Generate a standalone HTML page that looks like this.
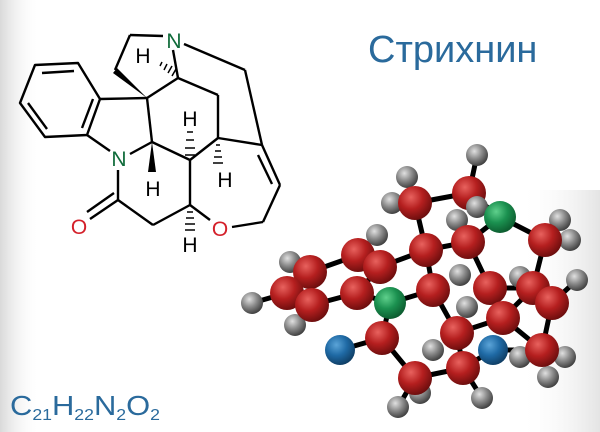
<!DOCTYPE html>
<html><head><meta charset="utf-8"><style>
html,body{margin:0;padding:0;width:600px;height:432px;overflow:hidden;background:#fff}
</style></head><body>
<svg width="600" height="432" viewBox="0 0 600 432" xmlns="http://www.w3.org/2000/svg">
<defs>
<linearGradient id="bgl" x1="0" x2="1"><stop offset="0" stop-color="#d9d9d9"/><stop offset="1" stop-color="#fff" stop-opacity="0"/></linearGradient>
<linearGradient id="bgr" x1="0" x2="1"><stop offset="0" stop-color="#fff" stop-opacity="0"/><stop offset="1" stop-color="#e4e4e4"/></linearGradient>
<radialGradient id="r" cx="0.38" cy="0.33" r="0.7"><stop offset="0" stop-color="#e8625e"/><stop offset="0.5" stop-color="#b51f1f"/><stop offset="1" stop-color="#6a0d0d"/></radialGradient>
<radialGradient id="g" cx="0.38" cy="0.33" r="0.7"><stop offset="0" stop-color="#5fd08c"/><stop offset="0.5" stop-color="#1b9150"/><stop offset="1" stop-color="#0c5a2e"/></radialGradient>
<radialGradient id="b" cx="0.38" cy="0.33" r="0.7"><stop offset="0" stop-color="#5ba4d8"/><stop offset="0.5" stop-color="#1f6aa5"/><stop offset="1" stop-color="#0f3d63"/></radialGradient>
<radialGradient id="h" cx="0.38" cy="0.33" r="0.7"><stop offset="0" stop-color="#e0e0e0"/><stop offset="0.5" stop-color="#8a8a8a"/><stop offset="1" stop-color="#3c3c3c"/></radialGradient>
</defs>
<rect width="600" height="432" fill="#fff"/>
<rect x="0" y="0" width="40" height="432" fill="url(#bgl)"/>
<rect x="520" y="190" width="80" height="242" fill="url(#bgr)"/>

<g stroke="#000" stroke-width="2.4" fill="none" stroke-linejoin="round">
<polygon points="35,65 78,63 100,99 87,135 45,137 20,103"/>
<line x1="42" y1="73" x2="74" y2="71"/><line x1="93" y1="99" x2="82" y2="128"/><line x1="28" y1="103" x2="47" y2="129"/>
<line x1="100" y1="99" x2="147" y2="98"/>
<line x1="87" y1="135" x2="110" y2="151"/>
<line x1="130" y1="154" x2="152" y2="142"/>
<line x1="147" y1="98" x2="152" y2="142"/>
<line x1="147" y1="98" x2="178" y2="78"/>
<line x1="178" y1="78" x2="173" y2="50"/>
<line x1="163" y1="36" x2="130" y2="35"/>
<line x1="130" y1="35" x2="115" y2="70"/>
<line x1="178" y1="78" x2="218" y2="95"/>
<line x1="218" y1="95" x2="218" y2="138"/>
<line x1="184" y1="44" x2="245" y2="70"/>
<line x1="245" y1="70" x2="262" y2="145"/>
<line x1="218" y1="138" x2="262" y2="145"/>
<line x1="262" y1="145" x2="280" y2="185"/><line x1="258" y1="155" x2="272" y2="184"/>
<line x1="280" y1="185" x2="263" y2="222"/>
<line x1="263" y1="222" x2="232" y2="227"/>
<line x1="210" y1="220" x2="190" y2="205"/>
<line x1="190" y1="205" x2="190" y2="160"/>
<line x1="152" y1="142" x2="190" y2="160"/>
<line x1="190" y1="160" x2="218" y2="138"/>
<line x1="190" y1="205" x2="153" y2="225"/>
<line x1="153" y1="225" x2="118" y2="200"/>
<line x1="118" y1="170" x2="118" y2="200"/>
<line x1="118" y1="200" x2="90" y2="219"/><line x1="114" y1="193" x2="87" y2="212"/>
</g>
<polygon points="147,98 113,73 117,68" fill="#000"/>
<polygon points="152,142 148,172 156,172" fill="#000"/>
<g stroke="#000" stroke-width="1.5">
<line x1="160" y1="66" x2="162" y2="62"/><line x1="164" y1="70" x2="167" y2="64"/><line x1="168" y1="73" x2="172" y2="66"/><line x1="172" y1="76" x2="176" y2="69"/>
<line x1="187" y1="132" x2="193" y2="132"/><line x1="186" y1="140" x2="194" y2="140"/><line x1="185" y1="148" x2="195" y2="148"/><line x1="185" y1="155" x2="195" y2="155"/>
<line x1="216" y1="145" x2="220" y2="145"/><line x1="215" y1="151" x2="221" y2="151"/><line x1="214" y1="157" x2="222" y2="157"/><line x1="213" y1="163" x2="223" y2="163"/>
<line x1="187" y1="212" x2="193" y2="212"/><line x1="186" y1="218" x2="194" y2="218"/><line x1="185" y1="224" x2="195" y2="224"/><line x1="185" y1="230" x2="195" y2="230"/>
</g>
<g font-family="Liberation Sans, sans-serif" font-size="21" text-anchor="middle">
<text x="174" y="48" fill="#0f6b3a">N</text>
<text x="119" y="166" fill="#0f6b3a">N</text>
<text x="79" y="234" fill="#d4202a">O</text>
<text x="220" y="236" fill="#d4202a">O</text>
<text x="143" y="63" fill="#000">H</text>
<text x="190" y="126" fill="#000">H</text>
<text x="153" y="196" fill="#000">H</text>
<text x="225" y="187" fill="#000">H</text>
<text x="190" y="252" fill="#000">H</text>
</g>
<text x="368" y="62" font-family="Liberation Sans, sans-serif" font-size="38" fill="#2a6a9c">Стрихнин</text>
<text x="10" y="415" font-family="Liberation Sans, sans-serif" font-size="28" fill="#2a6a9c" textLength="150" lengthAdjust="spacingAndGlyphs">C<tspan font-size="16" dy="5">21</tspan><tspan dy="-5">H</tspan><tspan font-size="16" dy="5">22</tspan><tspan dy="-5">N</tspan><tspan font-size="16" dy="5">2</tspan><tspan dy="-5">O</tspan><tspan font-size="16" dy="5">2</tspan></text>

<g stroke="#000" stroke-width="5" stroke-linecap="round">
<line x1="415" y1="203" x2="469" y2="193"/><line x1="415" y1="203" x2="426" y2="250"/><line x1="469" y1="193" x2="500" y2="217"/>
<line x1="500" y1="217" x2="468" y2="242"/><line x1="500" y1="217" x2="545" y2="240"/><line x1="426" y1="250" x2="468" y2="242"/>
<line x1="426" y1="250" x2="380" y2="267"/><line x1="426" y1="250" x2="433" y2="290"/><line x1="468" y1="242" x2="490" y2="288"/>
<line x1="545" y1="240" x2="533" y2="288"/><line x1="358" y1="255" x2="310" y2="272"/><line x1="310" y1="272" x2="287" y2="293"/>
<line x1="287" y1="293" x2="312" y2="305"/><line x1="312" y1="305" x2="357" y2="293"/><line x1="357" y1="293" x2="380" y2="267"/>
<line x1="357" y1="293" x2="390" y2="303"/><line x1="390" y1="303" x2="433" y2="290"/><line x1="390" y1="303" x2="382" y2="338"/>
<line x1="433" y1="290" x2="457" y2="333"/><line x1="490" y1="288" x2="533" y2="288"/><line x1="533" y1="288" x2="503" y2="318"/>
<line x1="552" y1="303" x2="542" y2="350"/><line x1="503" y1="318" x2="457" y2="333"/><line x1="457" y1="333" x2="463" y2="368"/>
<line x1="382" y1="338" x2="340" y2="350"/><line x1="382" y1="338" x2="415" y2="378"/><line x1="415" y1="378" x2="463" y2="368"/>
<line x1="463" y1="368" x2="493" y2="350"/><line x1="493" y1="350" x2="542" y2="350"/><line x1="503" y1="318" x2="542" y2="350"/>
<line x1="469" y1="193" x2="477" y2="155"/><line x1="415" y1="203" x2="392" y2="203"/><line x1="287" y1="293" x2="252" y2="303"/>
<line x1="415" y1="378" x2="398" y2="407"/><line x1="463" y1="368" x2="482" y2="398"/><line x1="552" y1="303" x2="577" y2="280"/>
</g>
<g>
<circle cx="477" cy="155" r="11" fill="url(#h)"/><circle cx="407" cy="177" r="11" fill="url(#h)"/><circle cx="392" cy="203" r="11" fill="url(#h)"/>
<circle cx="560" cy="220" r="11" fill="url(#h)"/><circle cx="570" cy="240" r="11" fill="url(#h)"/><circle cx="377" cy="235" r="11" fill="url(#h)"/>
<circle cx="290" cy="262" r="11" fill="url(#h)"/><circle cx="460" cy="275" r="11" fill="url(#h)"/><circle cx="520" cy="277" r="11" fill="url(#h)"/>
<circle cx="577" cy="280" r="11" fill="url(#h)"/><circle cx="467" cy="307" r="11" fill="url(#h)"/><circle cx="252" cy="303" r="11" fill="url(#h)"/>
<circle cx="295" cy="325" r="11" fill="url(#h)"/><circle cx="433" cy="350" r="11" fill="url(#h)"/><circle cx="520" cy="357" r="11" fill="url(#h)"/>
<circle cx="565" cy="357" r="11" fill="url(#h)"/><circle cx="548" cy="377" r="11" fill="url(#h)"/><circle cx="420" cy="393" r="11" fill="url(#h)"/>
<circle cx="398" cy="407" r="11" fill="url(#h)"/><circle cx="482" cy="398" r="11" fill="url(#h)"/>
<circle cx="415" cy="203" r="17" fill="url(#r)"/><circle cx="469" cy="193" r="17" fill="url(#r)"/>
<circle cx="477" cy="207" r="11" fill="url(#h)"/><circle cx="457" cy="220" r="11" fill="url(#h)"/>
<circle cx="500" cy="217" r="16" fill="url(#g)"/>
<circle cx="426" cy="250" r="17" fill="url(#r)"/><circle cx="468" cy="242" r="17" fill="url(#r)"/><circle cx="545" cy="240" r="17" fill="url(#r)"/>
<circle cx="358" cy="255" r="17" fill="url(#r)"/><circle cx="310" cy="272" r="17" fill="url(#r)"/><circle cx="380" cy="267" r="17" fill="url(#r)"/>
<circle cx="287" cy="293" r="17" fill="url(#r)"/><circle cx="312" cy="305" r="17" fill="url(#r)"/><circle cx="357" cy="293" r="17" fill="url(#r)"/>
<circle cx="390" cy="303" r="16" fill="url(#g)"/>
<circle cx="433" cy="290" r="17" fill="url(#r)"/><circle cx="490" cy="288" r="17" fill="url(#r)"/><circle cx="533" cy="288" r="17" fill="url(#r)"/>
<circle cx="552" cy="303" r="17" fill="url(#r)"/><circle cx="503" cy="318" r="17" fill="url(#r)"/><circle cx="457" cy="333" r="17" fill="url(#r)"/>
<circle cx="382" cy="338" r="17" fill="url(#r)"/><circle cx="542" cy="350" r="17" fill="url(#r)"/>
<circle cx="340" cy="350" r="15" fill="url(#b)"/><circle cx="493" cy="350" r="15" fill="url(#b)"/>
<circle cx="463" cy="368" r="17" fill="url(#r)"/><circle cx="415" cy="378" r="17" fill="url(#r)"/>
</g>
</svg>
</body></html>
